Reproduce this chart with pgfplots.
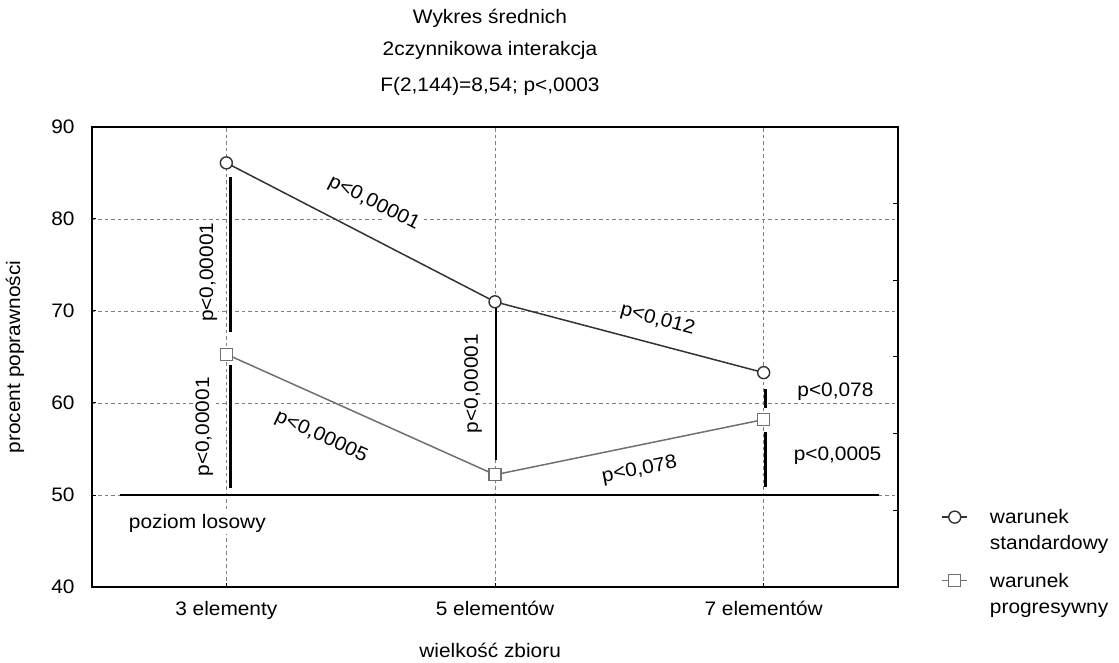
\documentclass[border=0pt]{standalone}
\usepackage{pgfplots}
\pgfplotsset{compat=1.18}
\usepackage{fontspec}
\setmainfont{Liberation Sans}[FakeStretch=1.07]
\definecolor{stdc}{HTML}{333333}
\definecolor{prgc}{HTML}{707070}
\definecolor{gridc}{HTML}{808080}
\begin{document}
\begin{tikzpicture}[font=\fontsize{19.5bp}{23bp}\selectfont]
\useasboundingbox (-92bp,-76bp) rectangle (1027bp,587bp);
\begin{axis}[
  at={(0,0)}, anchor=south west,
  scale only axis, width=806bp, height=460bp,
  xmin=-0.5, xmax=2.5, ymin=40, ymax=90,
  xtick={0,1,2}, xticklabels={3 elementy,5 elementów,7 elementów},
  ytick={40,50,...,90},
  xtick pos=bottom, ytick pos=left,
  /pgf/number format/assume math mode=true,
  tick align=inside, major tick length=4bp,
  tick style={black, line width=1bp},
  axis line style={black, line width=1.3bp},
  grid=major,
  major grid style={gridc, dash pattern=on 3.5bp off 3bp, line width=0.9bp},
  xticklabel style={yshift=-11bp},
  yticklabel style={xshift=-14bp},
  xlabel={wielkość zbioru},
  ylabel={procent poprawności},
  xlabel style={at={(rel axis cs:0.494,0)}, anchor=center, yshift=-63bp},
  ylabel style={at={(rel axis cs:0,0.5)}, anchor=center, yshift=77bp},
  legend style={at={(rel axis cs:1.05,0.178)}, anchor=north west, draw=none, fill=none,
    font=\fontsize{19.5bp}{26bp}\selectfont, row sep=18bp, cells={align=left},
    /tikz/every odd column/.append style={column sep=20bp}},
  legend cell align=left,
  legend image code/.code={\draw[mark repeat=2,mark phase=2,yshift=13bp] plot coordinates {(0bp,0bp) (12.5bp,0bp) (25bp,0bp)};},
]
\addplot[stdc, line width=1.5bp, mark=*, mark size=6bp, mark options={fill=white, draw=stdc, line width=1.4bp, solid}]
  coordinates {(0,86.1) (1,71.0) (2,63.3)};
\addlegendentry{warunek\\standardowy}
\addplot[prgc, line width=1.5bp, mark=square*, mark size=6bp, mark options={fill=white, draw=prgc, line width=1.4bp, solid}]
  coordinates {(0,65.3) (1,52.2) (2,58.2)};
\addlegendentry{warunek\\progresywny}
% chance level
\addplot[black, line width=2bp, forget plot] coordinates {(-0.397,50) (2.43,50)};
% significance bars
\addplot[black, line width=2.5bp, forget plot] coordinates {(0.015,84.6) (0.015,67.7)};
\addplot[black, line width=2.5bp, forget plot] coordinates {(0.015,64.1) (0.015,50.8)};
\addplot[black, line width=2.5bp, forget plot] coordinates {(1.004,70.3) (1.004,53.8)};
\addplot[black, line width=2.5bp, forget plot] coordinates {(2.007,61.5) (2.007,59.5)};
\addplot[black, line width=2.5bp, forget plot] coordinates {(2.007,56.8) (2.007,50.9)};
% annotations
\node[rotate=-27, fill=white, inner sep=1bp] at (axis cs:0.549,81.7) {p<0,00001};
\node[rotate=-15, fill=white, inner sep=1bp] at (axis cs:1.605,69.0) {p<0,012};
\node[rotate=-25, fill=white, inner sep=1bp] at (axis cs:0.353,56.3) {p<0,00005};
\node[rotate=11, fill=white, inner sep=1bp] at (axis cs:1.538,52.7) {p<0,078};
\node[fill=white, inner sep=1bp] at (axis cs:2.267,61.2) {p<0,078};
\node[fill=white, inner sep=1bp] at (axis cs:2.275,54.3) {p<0,0005};
\node[rotate=90, fill=white, inner sep=1bp] at (axis cs:-0.067,74.2) {p<0,00001};
\node[rotate=90, fill=white, inner sep=1bp] at (axis cs:-0.082,57.4) {p<0,00001};
\node[rotate=90, fill=white, inner sep=1bp] at (axis cs:0.918,62.1) {p<0,00001};
\node[fill=white, inner sep=2bp] at (axis cs:-0.108,46.96) {poziom losowy};
\end{axis}
\begin{axis}[
  at={(0,0)}, anchor=south west,
  scale only axis, width=806bp, height=460bp,
  xmin=-0.5, xmax=2.5, ymin=40, ymax=90,
  axis x line=none, axis y line*=right,
  ytick={48.333,56.667,65,73.333,81.667}, yticklabels={},
  tick align=inside, major tick length=5bp,
  tick style={black, line width=1bp},
  axis line style={black, line width=1.3bp},
]
\end{axis}
\node at (398bp,569bp) {Wykres średnich};
\node at (398bp,537bp) {2czynnikowa interakcja};
\node at (398bp,501bp) {F(2,144)=8,54; p<,0003};
\end{tikzpicture}
\end{document}
